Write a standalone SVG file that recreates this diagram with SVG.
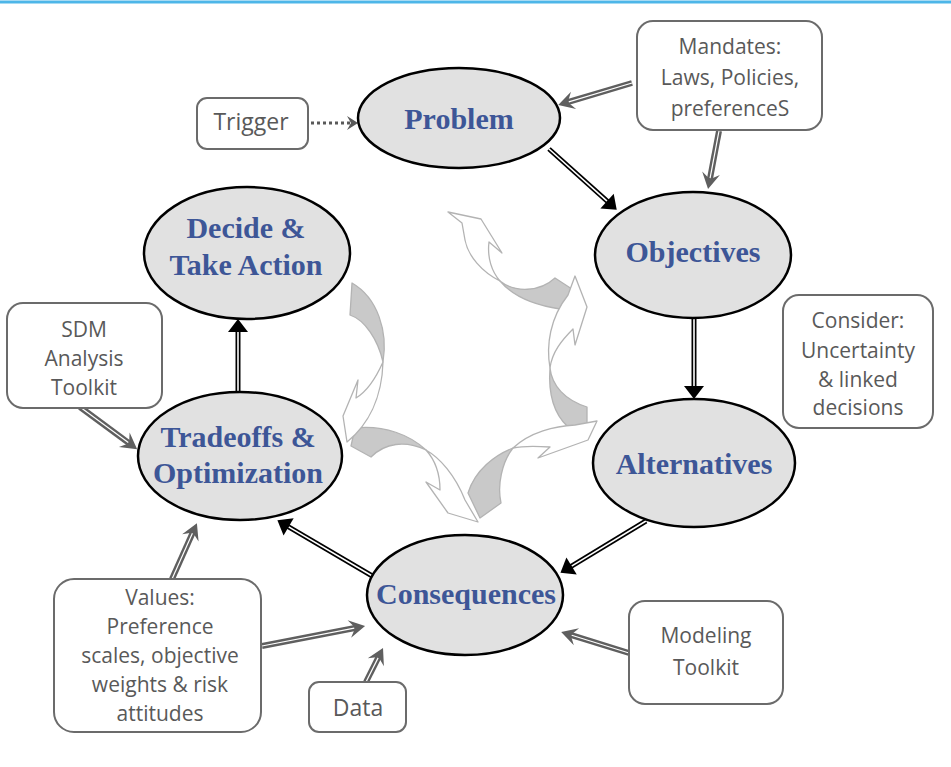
<svg xmlns="http://www.w3.org/2000/svg" width="951" height="767" viewBox="0 0 951 767">
<style>
.node ellipse{fill:#e1e1e1;stroke:#000;stroke-width:2.5}
.node text{font-family:"Liberation Serif","Times New Roman",serif;font-weight:bold;font-size:30px;fill:#3d5697;text-anchor:middle}
.box rect{fill:#fff;stroke:#6b6b6b;stroke-width:2}
.box text{font-family:"Open Sans","Noto Sans",sans-serif;font-size:21px;fill:#595959;text-anchor:middle}
.bo{stroke:#000;stroke-width:5}
.bi{stroke:#fff;stroke-width:1.6}
.bh{fill:#000}
.go{stroke:#5f5f5f;stroke-width:6}
.gi{stroke:#fff;stroke-width:1.2}
.gh{fill:#5f5f5f}
.cw{fill:#fff;stroke:#b3b3b3;stroke-width:1.3;stroke-linejoin:round}
.cg{fill:#c9c9c9;stroke:#b3b3b3;stroke-width:1.3;stroke-linejoin:round}
</style>
<line x1="0" y1="2" x2="951" y2="2" stroke="#4db6e8" stroke-width="3"/>

<g id="cycle-arrows">
<path class="cg" d="M500,281 C515,293 540,292 555,278 L575,291 L560,309 C540,306 515,299 500,281 Z"/>
<path class="cw" d="M462,223 L448,212 L481,219 L502,253 L489,242 C487,258 492,272 500,281 C482,272 468,256 465,240 Z"/>
<path class="cg" d="M550,368 C552,386 565,400 587,407 L587,428 L568,427 C555,415 548,395 550,368 Z"/>
<path class="cw" d="M568,295 L575,276 L587,307 L575,345 L573,329 C562,340 552,352 550,368 C546,345 550,318 568,295 Z"/>
<path class="cg" d="M513,448 C495,455 475,470 468,493 L480,518 L501,503 C497,485 502,462 513,448 Z"/>
<path class="cw" d="M513,448 C530,432 555,426 575,425 L597,421 L588,440 L538,458 L550,447 C535,446 522,446 513,448 Z"/>
<path class="cg" d="M426,450 C410,435 385,425 355,428 L351,446 L371,457 C385,443 405,440 426,450 Z"/>
<path class="cw" d="M426,450 C440,458 455,475 465,500 L478,522 L448,513 L426,482 L440,490 C440,475 435,460 426,450 Z"/>
<path class="cg" d="M383,362 C388,332 378,298 352,283 L350,315 C365,320 378,340 383,362 Z"/>
<path class="cw" d="M383,362 C375,380 366,392 356,398 L358,380 L343,416 L347,442 C368,425 382,398 383,362 Z"/>
</g>

<g id="connectors">
<g id="c-trigger-problem">
<line x1="311" y1="123" x2="350" y2="123" stroke="#595959" stroke-width="3" stroke-dasharray="3,3"/>
<polygon points="358,123 347,116 351,123 347,130" fill="#595959"/>
</g>
<g id="c-problem-objectives" transform="translate(549,149) rotate(41.9)">
<line class="bo" x1="0" y1="0" x2="80" y2="0"/><line class="bi" x1="0" y1="0" x2="78" y2="0"/>
<polygon class="bh" points="91,0 78,-10 78,10"/>
</g>
<g id="c-objectives-alternatives" transform="translate(694,318) rotate(90)">
<line class="bo" x1="0" y1="0" x2="70" y2="0"/><line class="bi" x1="0" y1="0" x2="68" y2="0"/>
<polygon class="bh" points="81,0 68,-10 68,10"/>
</g>
<g id="c-alternatives-consequences" transform="translate(646,521) rotate(148.8)">
<line class="bo" x1="0" y1="0" x2="89" y2="0"/><line class="bi" x1="0" y1="0" x2="87" y2="0"/>
<polygon class="bh" points="100,0 87,-10 87,10"/>
</g>
<g id="c-consequences-tradeoffs" transform="translate(374,577) rotate(210.4)">
<line class="bo" x1="0" y1="0" x2="101" y2="0"/><line class="bi" x1="0" y1="0" x2="99" y2="0"/>
<polygon class="bh" points="112,0 99,-10 99,10"/>
</g>
<g id="c-tradeoffs-decide" transform="translate(238,393) rotate(-90)">
<line class="bo" x1="0" y1="0" x2="63" y2="0"/><line class="bi" x1="0" y1="0" x2="61" y2="0"/>
<polygon class="bh" points="74,0 61,-10 61,10"/>
</g>
<g id="c-mandates-problem" transform="translate(632,83) rotate(163.4)">
<line class="go" x1="0" y1="0" x2="68" y2="0"/><line class="gi" x1="0" y1="0" x2="66" y2="0"/>
<polygon class="gh" points="77,0 61,-9 67,0 61,9"/>
</g>
<g id="c-mandates-objectives" transform="translate(719,131) rotate(100.7)">
<line class="go" x1="0" y1="0" x2="50" y2="0"/><line class="gi" x1="0" y1="0" x2="48" y2="0"/>
<polygon class="gh" points="59,0 43,-9 49,0 43,9"/>
</g>
<g id="c-sdm-tradeoffs" transform="translate(80,407) rotate(36.4)">
<line class="go" x1="0" y1="0" x2="62" y2="0"/><line class="gi" x1="0" y1="0" x2="60" y2="0"/>
<polygon class="gh" points="71,0 55,-9 61,0 55,9"/>
</g>
<g id="c-values-tradeoffs" transform="translate(172,579) rotate(-65.9)">
<line class="go" x1="0" y1="0" x2="52" y2="0"/><line class="gi" x1="0" y1="0" x2="50" y2="0"/>
<polygon class="gh" points="61,0 45,-9 51,0 45,9"/>
</g>
<g id="c-values-consequences" transform="translate(262,646) rotate(-11)">
<line class="go" x1="0" y1="0" x2="96" y2="0"/><line class="gi" x1="0" y1="0" x2="94" y2="0"/>
<polygon class="gh" points="105,0 89,-9 95,0 89,9"/>
</g>
<g id="c-data-consequences" transform="translate(366,682) rotate(-63.4)">
<line class="go" x1="0" y1="0" x2="29" y2="0"/><line class="gi" x1="0" y1="0" x2="27" y2="0"/>
<polygon class="gh" points="38,0 22,-9 28,0 22,9"/>
</g>
<g id="c-modeling-consequences" transform="translate(629,653) rotate(197.2)">
<line class="go" x1="0" y1="0" x2="62" y2="0"/><line class="gi" x1="0" y1="0" x2="60" y2="0"/>
<polygon class="gh" points="71,0 55,-9 61,0 55,9"/>
</g>
</g>

<g id="problem" class="node"><ellipse cx="459" cy="118" rx="101" ry="50"/><text x="459" y="129">Problem</text></g>
<g id="objectives" class="node"><ellipse cx="693" cy="255" rx="98" ry="63"/><text x="693" y="262">Objectives</text></g>
<g id="alternatives" class="node"><ellipse cx="694" cy="463" rx="101" ry="64"/><text x="694" y="474">Alternatives</text></g>
<g id="consequences" class="node"><ellipse cx="465" cy="595" rx="98" ry="60"/><text x="466" y="604">Consequences</text></g>
<g id="tradeoffs" class="node"><ellipse cx="240" cy="456" rx="102" ry="64"/><text x="238" y="447">Tradeoffs &amp;</text><text x="238" y="483">Optimization</text></g>
<g id="decide" class="node"><ellipse cx="247" cy="253" rx="103" ry="66"/><text x="246" y="238">Decide &amp;</text><text x="246" y="275">Take Action</text></g>

<g id="trigger" class="box"><rect x="197" y="98" width="111" height="51" rx="10"/><text x="251" y="130" style="font-size:23px">Trigger</text></g>
<g id="mandates" class="box"><rect x="637" y="21" width="185" height="109" rx="16"/><text x="730" y="54">Mandates:</text><text x="730" y="85">Laws, Policies,</text><text x="730" y="116">preferenceS</text></g>
<g id="consider" class="box"><rect x="783" y="295" width="150" height="133" rx="16"/><text x="858" y="328">Consider:</text><text x="858" y="358">Uncertainty</text><text x="858" y="387">&amp; linked</text><text x="858" y="415">decisions</text></g>
<g id="sdm" class="box"><rect x="7" y="303" width="155" height="105" rx="16"/><text x="84" y="337">SDM</text><text x="84" y="366">Analysis</text><text x="84" y="395">Toolkit</text></g>
<g id="values" class="box"><rect x="54" y="579" width="207" height="153" rx="20"/><text x="160" y="605">Values:</text><text x="160" y="634">Preference</text><text x="160" y="663">scales, objective</text><text x="160" y="692">weights &amp; risk</text><text x="160" y="721">attitudes</text></g>
<g id="data" class="box"><rect x="309" y="682" width="97" height="50" rx="10"/><text x="358" y="716" style="font-size:23px">Data</text></g>
<g id="modeling" class="box"><rect x="629" y="601" width="154" height="103" rx="16"/><text x="706" y="643">Modeling</text><text x="706" y="675">Toolkit</text></g>
</svg>
